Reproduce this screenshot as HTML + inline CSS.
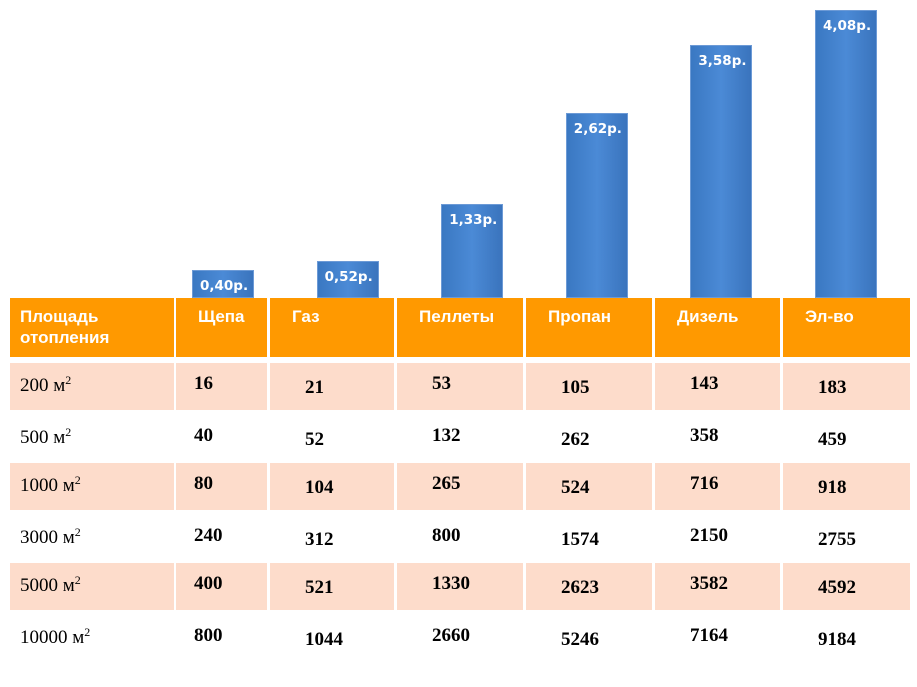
<!DOCTYPE html>
<html><head><meta charset="utf-8">
<style>
body{margin:0;width:917px;height:687px;background:#fff;position:relative;overflow:hidden;font-family:"Liberation Sans",sans-serif}
.c{position:absolute;box-sizing:border-box}
.h{background:#ff9900;color:#fff;font-weight:bold;font-size:17px;padding:8px 10px;line-height:21px}
.p{background:#fddccb}
.n{position:absolute;font-family:"Liberation Serif",serif;font-weight:bold;font-size:19px;color:#000}
.a{position:absolute;font-family:"Liberation Serif",serif;font-size:19px;color:#000}
.a sup{font-size:12px;vertical-align:7px}
.bar{position:absolute;background:linear-gradient(90deg,#3a78c2,#4b8ad6 50%,#3a74bd);border:1px solid #6c9ad6;box-sizing:border-box}
.bl{position:absolute;color:#fff;font-weight:bold;font-size:13.5px;font-family:"DejaVu Sans","Liberation Sans",sans-serif}
</style></head><body>
<svg id="chart" width="917" height="300" style="position:absolute;left:0;top:0"></svg>
<div id="tbl"></div>
<script>
const categories=["Щепа","Газ","Пеллеты","Пропан","Дизель","Эл-во"];
const prices=[0.40,0.52,1.33,2.62,3.58,4.08];
const priceLabels=["0,40р.","0,52р.","1,33р.","2,62р.","3,58р.","4,08р."];
const areas=["200","500","1000","3000","5000","10000"];
const row200=[16,21,53,105,143,183];
const row500=[40,52,132,262,358,459];
const row1000=[80,104,265,524,716,918];
const row3000=[240,312,800,1574,2150,2755];
const row5000=[400,521,1330,2623,3582,4592];
const row10000=[800,1044,2660,5246,7164,9184];
const rows=[row200,row500,row1000,row3000,row5000,row10000];

const base=298, k=70.6;
const yScale=v=>base-v*k;
const barX=i=>192+i*124.6;
const body=document.body;
prices.forEach((v,i)=>{
  const b=document.createElement('div');
  
  
  b.className='bar';
  const t=yScale(v);
  b.style.left=barX(i)+'px';b.style.top=t+'px';b.style.width='62px';b.style.height=(base-t)+'px';
  body.appendChild(b);
  const l=document.createElement('div');
  
  
  l.className='bl';l.textContent=priceLabels[i];
  l.style.left=(barX(i)+8)+'px';
  l.style.top=(v<0.6?(t+8):(t+8))+'px';
  body.appendChild(l);
});
const colL=[10,176,270,397,526,655,783], colR=[174,267,394,523,652,780,910];
const rowTop=[363,415,463,515,563,615], rowH=47;
// header
const hdr=["Площадь<br>отопления"].concat(categories);
hdr.forEach((h,i)=>{
  const d=document.createElement('div');
  
  
  d.className='c h';d.innerHTML=h;
  d.style.left=colL[i]+'px';d.style.top='298px';d.style.width=(colR[i]-colL[i])+'px';d.style.height='59px';
  if(i>0){d.style.paddingLeft='22px';}
  body.appendChild(d);
});
rows.forEach((r,ri)=>{
  if(ri%2==0){
    for(let c=0;c<7;c++){
      const d=document.createElement('div');
      
      
      d.className='c p';
      d.style.left=colL[c]+'px';d.style.top=rowTop[ri]+'px';d.style.width=(colR[c]-colL[c])+'px';d.style.height=rowH+'px';
      body.appendChild(d);
    }
  }
  const a=document.createElement('div');
  
  
  a.className='a';a.innerHTML=areas[ri]+' м<sup>2</sup>';
  a.style.left='20px';a.style.top=(rowTop[ri]+10)+'px';
  body.appendChild(a);
  r.forEach((v,ci)=>{
    const n=document.createElement('div');
    
    
    n.className='n';n.textContent=v;
    n.style.left=(colL[ci+1]+(ci==0?18:35))+'px';n.style.top=(rowTop[ri]+10+(ci%2)*4)+'px';
    body.appendChild(n);
  });
});
</script>
</body></html>
